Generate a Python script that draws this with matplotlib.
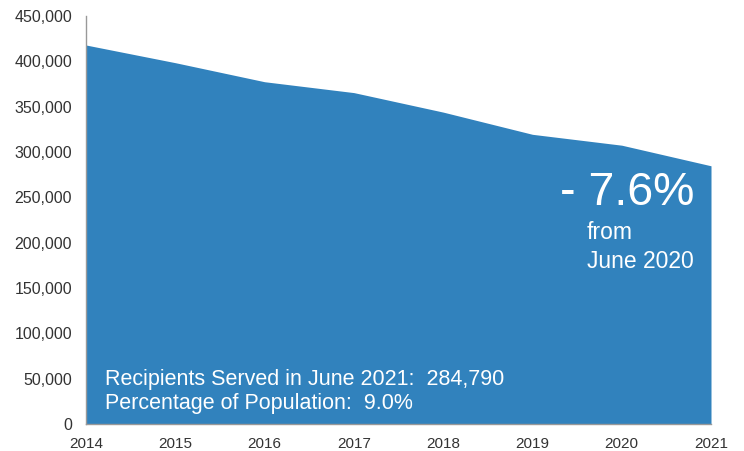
import matplotlib.pyplot as plt
from matplotlib.ticker import FuncFormatter

years = [2014, 2015, 2016, 2017, 2018, 2019, 2020, 2021]
recipients = [418000, 398500, 377500, 365500, 344000, 319500, 307500, 284790]
y_ticks = list(range(0, 450001, 50000))

plt.rcParams['font.family'] = ['Liberation Sans', 'DejaVu Sans']

fig = plt.figure(figsize=(7.44, 4.51), dpi=100)
ax = fig.add_axes([86 / 744, 1 - 424 / 451, 625 / 744, 408 / 451])

blue = '#3182bd'
ax.fill_between(years, recipients, 0, color=blue, linewidth=0)

ax.set_xlim(2014, 2021)
ax.set_ylim(0, 450000)
ax.set_xticks(years)
ax.set_yticks(y_ticks)
ax.yaxis.set_major_formatter(FuncFormatter(lambda v, p: f'{int(v):,}'))
ax.tick_params(axis='y', length=0, labelsize=11.5, colors='#333333', pad=10)
ax.tick_params(axis='x', length=0, labelsize=11, colors='#333333', pad=9)

for s in ['top', 'right']:
    ax.spines[s].set_visible(False)
for s in ['left', 'bottom']:
    ax.spines[s].set_color('#999999')
    ax.spines[s].set_linewidth(1)


def px(x, y):
    return x / 744, 1 - y / 451


fig.text(*px(105, 385), 'Recipients Served in June 2021:  284,790',
         color='white', fontsize=15.5, va='baseline', ha='left')
fig.text(*px(105, 409), 'Percentage of Population:  9.0%',
         color='white', fontsize=15.5, va='baseline', ha='left')

fig.text(*px(560, 205), '- 7.6%', color='white', fontsize=33.5,
         va='baseline', ha='left')
fig.text(*px(587, 239), 'from', color='white', fontsize=16.5,
         va='baseline', ha='left')
fig.text(*px(587, 268), 'June 2020', color='white', fontsize=16.5,
         va='baseline', ha='left')

fig.savefig('out.png', dpi=100)
